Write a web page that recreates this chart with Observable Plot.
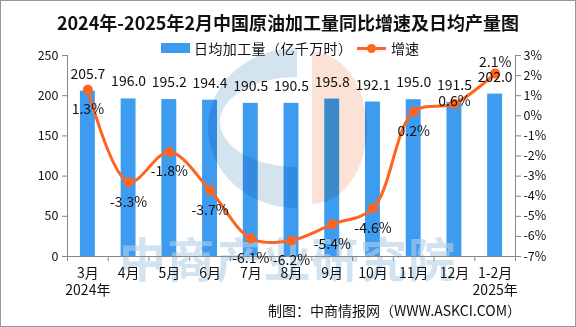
<!DOCTYPE html>
<html>
<head>
<meta charset="utf-8">
<script src="https://cdn.jsdelivr.net/npm/d3@7"></script>
<script src="https://cdn.jsdelivr.net/npm/@observablehq/plot@0.6"></script>
<style>
  html, body { margin: 0; padding: 0; background: #fff; }
  #wrap { position: relative; width: 576px; height: 327px; overflow: hidden; background: #fff;
          font-family: "Noto Sans CJK SC", sans-serif; color: #111; isolation: isolate; }
  #border { position: absolute; left: 0; top: 0; width: 576px; height: 327px; box-sizing: border-box;
            border: 1px solid #999; pointer-events: none; z-index: 7; }
  #title { position: absolute; left: 0; width: 576px; top: 9px; text-align: center;
           font-size: 18px; font-weight: bold; line-height: 26px; z-index: 5; }
  #legend { position: absolute; top: 39px; left: 0; height: 18px; width: 576px; z-index: 5; font-size: 14px; line-height: 18px; }
  .lg { position: absolute; top: 0; white-space: nowrap; }
  #bars { position: absolute; left: 0; top: 0; z-index: 1; }
  #watermark { position: absolute; left: 119px; top: 233px; font-size: 47px; line-height: 48px; font-weight: bold;
               color: rgba(178,208,230,0.6); letter-spacing: 1.2px; z-index: 2; white-space: nowrap; }
  #chart { position: absolute; left: 0; top: 0; z-index: 3; }
  #logo { position: absolute; left: 0; top: 0; z-index: 4; mix-blend-mode: multiply; pointer-events: none; }
  #caption { position: absolute; right: 55px; top: 300px; font-size: 14px; line-height: 20px; z-index: 5; white-space: nowrap; }
</style>
</head>
<body>
<div id="wrap">
  <div id="title"></div>
  <div id="legend"></div>
  <div id="bars"></div>
  <div id="watermark">中商产业研究院</div>
  <div id="chart"></div>
  <svg id="logo" width="576" height="327">
    <path d="M297,48 A89,80 0 0 0 297,208 Z M297,77 A77,45 0 0 0 297,167 Z" fill="#d3e4ef" fill-rule="evenodd"></path>
    <path d="M312,52 A55,76 0 0 1 312,204 Z" fill="#fbe2d7"></path>
  </svg>
  <div id="caption"></div>
  <div id="border"></div>
</div>
<script>
// ---- data ----
const titleText = "2024年-2025年2月中国原油加工量同比增速及日均产量图";
const seriesNames = ["日均加工量（亿千万时）", "增速"];
const captionText = "制图：中商情报网（WWW.ASKCI.COM）";
const months = ["3月","4月","5月","6月","7月","8月","9月","10月","11月","12月","1-2月"];
const years = ["2024年","","","","","","","","","","2025年"];
const output = [205.7,196.0,195.2,194.4,190.5,190.5,195.8,192.1,195.0,191.5,202.0];
const growth = [1.3,-3.3,-1.8,-3.7,-6.1,-6.2,-5.4,-4.6,0.2,0.6,2.1];
const leftTicks = [0,50,100,150,200,250];
const rightTicks = [-7,-6,-5,-4,-3,-2,-1,0,1,2,3];

const barColor = "#3d9cf0";
const lineColor = "#ff6420";

const rows = months.map((m, i) => ({i, month: m, year: years[i], output: output[i], growth: growth[i]}));
// right axis (-7%..3%) mapped onto the left scale (0..250)
const gMin = rightTicks[0], gMax = rightTicks[rightTicks.length - 1];
const yMax = leftTicks[leftTicks.length - 1];
const toY = g => (g - gMin) / (gMax - gMin) * yMax;
const fromY = v => v / yMax * (gMax - gMin) + gMin;
const mid = d => d.i + 0.5;
const fmtPct = g => (g < 0 ? "-" : "") + Math.abs(g).toFixed(1) + "%";

document.getElementById("title").textContent = titleText;
document.getElementById("caption").textContent = captionText;
document.getElementById("legend").innerHTML =
  `<div class="lg" style="left:161px;top:4px;width:29px;height:10px;background:${barColor}"></div>` +
  `<div class="lg" style="left:194px;letter-spacing:0.4px">${seriesNames[0]}</div>` +
  `<div class="lg" style="left:357px;top:8px;width:29px;height:3px;background:${lineColor}"></div>` +
  `<div class="lg" style="left:367px;top:5px;width:9px;height:9px;border-radius:50%;background:${lineColor}"></div>` +
  `<div class="lg" style="left:391px">${seriesNames[1]}</div>`;

const common = {
  width: 576, height: 327,
  marginTop: 55, marginBottom: 71, marginLeft: 67, marginRight: 61,
  style: {fontFamily: "'Noto Sans CJK SC', sans-serif", fontSize: "12px", color: "#111", background: "transparent"},
  x: {domain: [0, months.length], axis: null},
  y: {domain: [0, yMax], axis: null}
};

// layer 1: bars (below the watermark)
const barLayer = Plot.plot({
  ...common,
  marks: [
    Plot.rectY(rows, {x1: "i", x2: d => d.i + 1, y: "output", insetLeft: 12.9, insetRight: 12.9, fill: barColor})
  ]
});
document.getElementById("bars").appendChild(barLayer);

// layer 2: axes, line, labels (above the watermark)
const belowIdx = rows.filter(d => d.i < 9);
const chart = Plot.plot({
  ...common,
  marks: [
    Plot.ruleY([0], {stroke: "#888"}),
    Plot.ruleX([0, months.length], {stroke: "#888"}),
    Plot.axisX(d3.range(months.length + 1), {tickSize: 5, tickFormat: () => "", color: "#888", label: null}),
    Plot.axisX(rows.map(mid), {tickSize: 0, tickPadding: 10, fontSize: 14, lineHeight: 1.2, label: null,
      tickFormat: v => { const i = Math.floor(v); return months[i] + (years[i] ? "\n" + years[i] : ""); }}),
    Plot.axisY(leftTicks, {anchor: "left", tickSize: 5, tickFormat: () => "", color: "#888", label: null}),
    Plot.axisY(leftTicks, {anchor: "left", tickSize: 0, tickPadding: 9, fontSize: 12.5, label: null}),
    Plot.axisY(rightTicks.map(toY), {anchor: "right", tickSize: 5, tickFormat: () => "", color: "#888", label: null}),
    Plot.axisY(rightTicks.map(toY), {anchor: "right", tickSize: 0, tickPadding: 8, fontSize: 12.5, label: null,
      tickFormat: v => { const g = Math.round(fromY(v)); return (g < 0 ? "-" : "") + Math.abs(g) + "%"; }}),
    Plot.line(rows, {x: mid, y: d => toY(d.growth), stroke: lineColor, strokeWidth: 3, curve: "catmull-rom"}),
    Plot.dot(rows, {x: mid, y: d => toY(d.growth), r: 5, fill: lineColor}),
    Plot.text(rows, {x: mid, y: "output", text: d => d.output.toFixed(1), dy: -17, fontSize: 14, fill: "#111"}),
    Plot.text(belowIdx, {x: mid, y: d => toY(d.growth), text: d => fmtPct(d.growth), dy: 20, fontSize: 14, fill: "#111"}),
    Plot.text(rows.filter(d => d.i === 9), {x: mid, y: d => toY(d.growth), text: d => fmtPct(d.growth), dy: -2, fontSize: 14, fill: "#111"}),
    Plot.text(rows.filter(d => d.i === 10), {x: mid, y: d => toY(d.growth), text: d => fmtPct(d.growth), dy: -11, fontSize: 14, fill: "#111"})
  ]
});
document.getElementById("chart").appendChild(chart);
</script>
</body>
</html>
